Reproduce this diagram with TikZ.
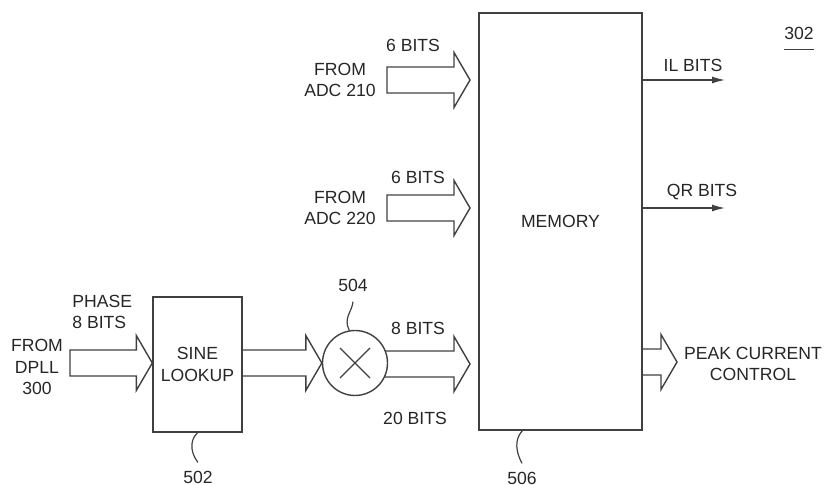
\documentclass[tikz,border=0pt]{standalone}
\usepackage{fontspec}
\setmainfont{Liberation Sans}
\usetikzlibrary{positioning, arrows.meta, backgrounds, calc}

% hollow bus arrow: #2 = tail, #3 = tip
\newcommand{\busarrow}[3][]{%
  \draw[bus] let \p1=(#2), \p2=(#3) in
    (\x1,\y2+6.5pt) -- (\x2-8pt,\y2+6.5pt) -- (\x2-8pt,\y2+13.75pt) -- (\x2,\y2)
    -- (\x2-8pt,\y2-13.75pt) -- (\x2-8pt,\y2-6.5pt) -- (\x1,\y2-6.5pt) #1;}

\begin{document}
\begin{tikzpicture}[
    x=0.5pt, y=-0.5pt,
    every node/.style={font=\fontsize{8.8}{10.8}\selectfont, text=black!85},
    block/.style={
        draw=black!75,
        line width=0.7pt,
        rectangle,
        align=center
    },
    bus/.style={draw=black!75, line width=0.7pt, line join=miter},
    wire/.style={draw=black!75, line width=0.7pt, -{Latex[length=6.5pt,width=3.5pt]}},
    lead/.style={draw=black!75, line width=0.6pt},
    lbl/.style={align=center, inner sep=0pt}
]
\useasboundingbox (0,0) rectangle (828,485);

% Blocks
\node[block, minimum width=81.5pt, minimum height=208.5pt] (mem) at (560.5,221.5) {MEMORY};

\node[block, minimum width=44.5pt, minimum height=67.5pt] (sine) at (197.5,364.5) {SINE\\LOOKUP};

\node[block, circle, fill=white, minimum size=32.5pt, inner sep=0pt] (mult) at (355,363) {};
\draw[lead] ($(mult)+(-15,-15)$) -- ($(mult)+(15,15)$);
\draw[lead] ($(mult)+(-15,15)$) -- ($(mult)+(15,-15)$);

% Free ends
\coordinate (dpll) at (70,363);
\coordinate (adc1) at (387,80);
\coordinate (adc1tip) at (470,80);
\coordinate (adc2) at (387,208);
\coordinate (adc2tip) at (470,208);
\coordinate (mtip) at (470,364);
\coordinate (ptip) at (677,362);
\coordinate (ilend) at (725,80);
\coordinate (qrend) at (725,208);

% Bus arrows
\begin{scope}[on background layer]
\busarrow[-- cycle]{dpll}{sine.west |- mult.center}
\busarrow{sine.east |- mult.center}{mult.west}
\busarrow{mult.center}{mtip}
\busarrow[-- cycle]{adc1}{adc1tip}
\busarrow[-- cycle]{adc2}{adc2tip}
\busarrow{mem.east |- ptip}{ptip}
\end{scope}

% Outputs
\draw[wire] (mem.east |- ilend) -- (ilend);
\draw[wire] (mem.east |- qrend) -- (qrend);

% Labels
\node[lbl] (dplltxt) at (37,367) {FROM\\DPLL\\300};
\node[lbl, anchor=west, align=left] (phase) at (72,312) {PHASE\\8 BITS};
\node[lbl] (adc1txt) at (340,80) {FROM\\ADC 210};
\node[lbl] (adc1bits) at (413,45) {6 BITS};
\node[lbl] (adc2txt) at (340,208) {FROM\\ADC 220};
\node[lbl] (adc2bits) at (418,177) {6 BITS};
\node[lbl] (bits8) at (418,328) {8 BITS};
\node[lbl] (bits20) at (415,418) {20 BITS};
\node[lbl] (iltxt) at (693,65) {IL BITS};
\node[lbl] (qrtxt) at (702,192) {QR BITS};
\node[lbl] (peaktxt) at (753,364) {PEAK CURRENT\\CONTROL};
\node[lbl] (fig) at (799,33) {302};
\draw[lead] ($(fig.south west)+(0,10)$) -- ($(fig.south east)+(0,10)$);

% Reference numerals
\node[lbl] (l504) at (353,285) {504};
\node[lbl] (l502) at (198,477) {502};
\node[lbl] (l506) at (522,478) {506};

\draw[lead] (mult.100) .. controls (343,318) and (352,312) .. ($(l504.south)+(0,10)$);
\draw[lead] (sine.south) .. controls (188,442) and (192,455) .. ($(l502.north)+(0,-8)$);
\draw[lead] ($(mem.south west)+(44,0)$) .. controls (514,440) and (516,452) .. ($(l506.north)+(0,-8)$);

\end{tikzpicture}
\end{document}
